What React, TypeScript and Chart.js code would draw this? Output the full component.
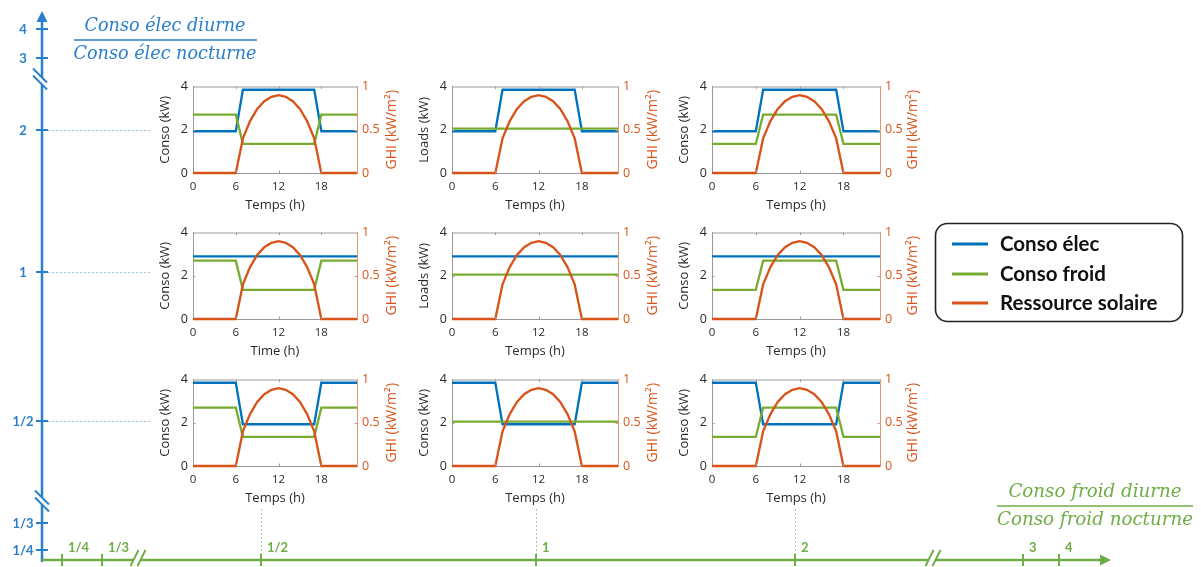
import React, { useEffect, useRef } from 'react';
import { Chart, registerables } from 'chart.js';

Chart.register(...registerables);

// ---------------- data ----------------
const hours = [0, 1, 2, 3, 4, 5, 6, 7, 8, 9, 10, 11, 12, 13, 14, 15, 16, 17, 18, 19, 20, 21, 22, 23];
const ghiProfile = [0, 0, 0, 0, 0, 0, 0, 0.4, 0.6, 0.74, 0.83, 0.88, 0.9, 0.88, 0.83, 0.74, 0.6, 0.4, 0, 0, 0, 0, 0, 0];

const elecDayHigh = [1.93, 1.93, 1.93, 1.93, 1.93, 1.93, 1.93, 3.85, 3.85, 3.85, 3.85, 3.85, 3.85, 3.85, 3.85, 3.85, 3.85, 3.85, 1.93, 1.93, 1.93, 1.93, 1.93, 1.93];
const elecFlat = [2.9, 2.9, 2.9, 2.9, 2.9, 2.9, 2.9, 2.9, 2.9, 2.9, 2.9, 2.9, 2.9, 2.9, 2.9, 2.9, 2.9, 2.9, 2.9, 2.9, 2.9, 2.9, 2.9, 2.9];
const elecDayLow = [3.85, 3.85, 3.85, 3.85, 3.85, 3.85, 3.85, 1.93, 1.93, 1.93, 1.93, 1.93, 1.93, 1.93, 1.93, 1.93, 1.93, 1.93, 3.85, 3.85, 3.85, 3.85, 3.85, 3.85];

const froidDayLow = [2.7, 2.7, 2.7, 2.7, 2.7, 2.7, 2.7, 1.35, 1.35, 1.35, 1.35, 1.35, 1.35, 1.35, 1.35, 1.35, 1.35, 1.35, 2.7, 2.7, 2.7, 2.7, 2.7, 2.7];
const froidFlat = [2.05, 2.05, 2.05, 2.05, 2.05, 2.05, 2.05, 2.05, 2.05, 2.05, 2.05, 2.05, 2.05, 2.05, 2.05, 2.05, 2.05, 2.05, 2.05, 2.05, 2.05, 2.05, 2.05, 2.05];
const froidDayHigh = [1.35, 1.35, 1.35, 1.35, 1.35, 1.35, 1.35, 2.7, 2.7, 2.7, 2.7, 2.7, 2.7, 2.7, 2.7, 2.7, 2.7, 2.7, 1.35, 1.35, 1.35, 1.35, 1.35, 1.35];

const rowElecProfiles = [elecDayHigh, elecFlat, elecDayLow];
const colFroidProfiles = [froidDayLow, froidFlat, froidDayHigh];

const timeTicks = [0, 6, 12, 18];
const loadAxisTitles = [
  ['Conso (kW)', 'Loads (kW)', 'Conso (kW)'],
  ['Conso (kW)', 'Loads (kW)', 'Conso (kW)'],
  ['Conso (kW)', 'Conso (kW)', 'Conso (kW)'],
];
const timeAxisTitles = [
  ['Temps (h)', 'Temps (h)', 'Temps (h)'],
  ['Time (h)', 'Temps (h)', 'Temps (h)'],
  ['Temps (h)', 'Temps (h)', 'Temps (h)'],
];
const ghiAxisTitle = 'GHI (kW/m²)';
const seriesLabels = ['Conso élec', 'Conso froid', 'Ressource solaire'];

const elecRatioLabels = ['4', '3', '2', '1', '1/2', '1/3', '1/4'];
const froidRatioLabels = ['1/4', '1/3', '1/2', '1', '2', '3', '4'];
const elecFractionText = ['Conso élec diurne', 'Conso élec nocturne'];
const froidFractionText = ['Conso froid diurne', 'Conso froid nocturne'];

// ---------------- layout / style ----------------
const W = 1201;
const H = 567;
const COL_LEFT = [193, 452, 712];
const COL_WIDTH = [164, 166, 168];
const ROW_TOP = [84, 230, 377];
const PLOT_H = 89;
const PAD_L = 45;
const PAD_R = 48;
const PAD_T = 10;
const PAD_B = 44;
const RIGHT_TITLE_OFFSET = [35, 35, 33];

const ELEC_TICK_Y = [29, 58, 130, 272, 421, 523, 550];
const FROID_TICK_X = [62, 102, 261, 536, 795, 1023, 1059];
const GUIDED = [2, 3, 4];

const C_BLUE = '#0072BD';
const C_GREEN = '#77AC30';
const C_ORANGE = '#D95319';
const AX_BLUE = '#2A7FCC';
const AX_GREEN = '#70AD47';
const GUIDE_BLUE = '#9DC3E6';
const GUIDE_GREEN = '#A9D18E';
const TXT = '#2a2a2a';
const BOX_GREY = '#9a9a9a';
const SANS = '"Open Sans", "DejaVu Sans", sans-serif';

function line(ctx: CanvasRenderingContext2D, x1: number, y1: number, x2: number, y2: number) {
  ctx.beginPath();
  ctx.moveTo(x1, y1);
  ctx.lineTo(x2, y2);
  ctx.stroke();
}

function drawBreak(ctx: CanvasRenderingContext2D, cx: number, cy: number, hx: number, hy: number, ox: number, oy: number, color: string) {
  ctx.save();
  ctx.fillStyle = '#ffffff';
  ctx.beginPath();
  ctx.moveTo(cx - ox - hx, cy - oy - hy);
  ctx.lineTo(cx - ox + hx, cy - oy + hy);
  ctx.lineTo(cx + ox + hx, cy + oy + hy);
  ctx.lineTo(cx + ox - hx, cy + oy - hy);
  ctx.closePath();
  ctx.fill();
  ctx.strokeStyle = color;
  ctx.lineWidth = 2;
  line(ctx, cx - ox - hx, cy - oy - hy, cx - ox + hx, cy - oy + hy);
  line(ctx, cx + ox - hx, cy + oy - hy, cx + ox + hx, cy + oy + hy);
  ctx.restore();
}

function drawFraction(ctx: CanvasRenderingContext2D, texts: string[], cx: number, lineY: number, x1: number, x2: number, targetW: number, color: string) {
  const family = '"DejaVu Serif", serif';
  ctx.font = `italic 20px ${family}`;
  const w = ctx.measureText(texts[1]).width;
  const size = (20 * targetW) / w;
  ctx.font = `italic ${size.toFixed(2)}px ${family}`;
  ctx.fillStyle = color;
  ctx.textAlign = 'center';
  ctx.textBaseline = 'alphabetic';
  ctx.fillText(texts[0], cx, lineY - 9);
  ctx.fillText(texts[1], cx, lineY + 19);
  ctx.strokeStyle = color;
  ctx.lineWidth = 1.5;
  line(ctx, x1, lineY, x2, lineY);
}

const framePlugin = {
  id: 'outerFrame',
  afterDraw(chart: any) {
    const ctx: CanvasRenderingContext2D = chart.ctx;
    ctx.save();

    // dotted guides
    ctx.setLineDash([2, 2]);
    ctx.lineWidth = 1;
    ctx.strokeStyle = GUIDE_BLUE;
    GUIDED.forEach((i) => line(ctx, 48, ELEC_TICK_Y[i] + 0.5, 152, ELEC_TICK_Y[i] + 0.5));
    ctx.strokeStyle = GUIDE_GREEN;
    GUIDED.forEach((i) => line(ctx, FROID_TICK_X[i] + 0.5, 509, FROID_TICK_X[i] + 0.5, 556));
    ctx.setLineDash([]);

    // vertical (elec) axis
    ctx.strokeStyle = AX_BLUE;
    ctx.fillStyle = AX_BLUE;
    ctx.lineWidth = 2.5;
    line(ctx, 42, 562, 42, 20);
    ctx.beginPath();
    ctx.moveTo(42, 11);
    ctx.lineTo(36.5, 22);
    ctx.lineTo(47.5, 22);
    ctx.closePath();
    ctx.fill();
    ctx.lineWidth = 2;
    ELEC_TICK_Y.forEach((y) => line(ctx, 36, y, 48, y));
    ctx.font = `bold 13px Lato, ${SANS}`;
    ctx.textAlign = 'center';
    ctx.textBaseline = 'middle';
    elecRatioLabels.forEach((lab, i) => ctx.fillText(lab, 23, ELEC_TICK_Y[i] + 1));
    drawBreak(ctx, 40, 79, 7, 7, 0, 3.5, AX_BLUE);
    drawBreak(ctx, 42, 501, 7, 7, 0, 3.5, AX_BLUE);

    // horizontal (froid) axis
    ctx.strokeStyle = AX_GREEN;
    ctx.fillStyle = AX_GREEN;
    ctx.lineWidth = 2.5;
    line(ctx, 42, 560, 1102, 560);
    ctx.beginPath();
    ctx.moveTo(1111, 560);
    ctx.lineTo(1100, 554.5);
    ctx.lineTo(1100, 565.5);
    ctx.closePath();
    ctx.fill();
    ctx.lineWidth = 2;
    FROID_TICK_X.forEach((x) => line(ctx, x, 554, x, 566));
    ctx.font = `bold 13px Lato, ${SANS}`;
    ctx.textAlign = 'left';
    ctx.textBaseline = 'middle';
    froidRatioLabels.forEach((lab, i) => ctx.fillText(lab, FROID_TICK_X[i] + 6, 548));
    drawBreak(ctx, 138, 558, 4, -8, 3.5, 0, AX_GREEN);
    drawBreak(ctx, 933, 558, 4, -8, 3.5, 0, AX_GREEN);

    // fractions
    drawFraction(ctx, elecFractionText, 165, 40, 74, 257, 183, AX_BLUE);
    drawFraction(ctx, froidFractionText, 1095, 506, 997, 1193, 196, AX_GREEN);

    // legend
    ctx.strokeStyle = '#222222';
    ctx.lineWidth = 1.6;
    ctx.beginPath();
    (ctx as any).roundRect(935.5, 223.5, 247, 98, 12);
    ctx.stroke();
    const legColors = [C_BLUE, C_GREEN, C_ORANGE];
    const legY = [244, 274, 303];
    ctx.font = `bold 20.5px Lato, ${SANS}`;
    ctx.textAlign = 'left';
    ctx.textBaseline = 'middle';
    seriesLabels.forEach((lab, i) => {
      ctx.strokeStyle = legColors[i];
      ctx.lineWidth = 3;
      line(ctx, 952, legY[i], 988, legY[i]);
      ctx.fillStyle = '#111111';
      ctx.fillText(lab, 1000, legY[i]);
    });

    ctx.restore();
  },
};

function OuterFrame() {
  const ref = useRef<HTMLCanvasElement>(null);
  useEffect(() => {
    const chart = new Chart(ref.current as HTMLCanvasElement, {
      type: 'scatter',
      data: { datasets: [] },
      options: {
        responsive: false,
        animation: false,
        events: [],
        layout: { padding: 0 },
        plugins: { legend: { display: false }, tooltip: { enabled: false } },
        scales: { x: { display: false }, y: { display: false } },
      },
      plugins: [framePlugin],
    } as any);
    return () => chart.destroy();
  }, []);
  return <canvas ref={ref} width={W} height={H} style={{ position: 'absolute', left: 0, top: 0 }} />;
}

function Panel({ row, col }: { row: number; col: number }) {
  const ref = useRef<HTMLCanvasElement>(null);
  const plotW = COL_WIDTH[col];
  const cw = plotW + PAD_L + PAD_R;
  const chh = PLOT_H + PAD_T + PAD_B;
  useEffect(() => {
    const elec = rowElecProfiles[row];
    const froid = colFroidProfiles[col];
    const decor = {
      id: 'panelDecor',
      afterDraw(chart: any) {
        const ctx: CanvasRenderingContext2D = chart.ctx;
        const a = chart.chartArea;
        const sx = chart.scales.x;
        const sy = chart.scales.y;
        const sy2 = chart.scales.y2;
        ctx.save();
        ctx.strokeStyle = BOX_GREY;
        ctx.lineWidth = 1;
        line(ctx, a.left, a.top + 0.5, a.right, a.top + 0.5);
        timeTicks.slice(1).forEach((t) => {
          const px = Math.round(sx.getPixelForValue(t)) + 0.5;
          line(ctx, px, a.top, px, a.top + 2.5);
          line(ctx, px, a.bottom, px, a.bottom - 2.5);
        });
        const py = Math.round(sy.getPixelForValue(2)) + 0.5;
        line(ctx, a.left, py, a.left + 2.5, py);
        ctx.strokeStyle = '#E59870';
        const py2 = Math.round(sy2.getPixelForValue(0.5)) + 0.5;
        line(ctx, a.right, py2, a.right - 2.5, py2);
        ctx.translate(a.right + RIGHT_TITLE_OFFSET[col], (a.top + a.bottom) / 2);
        ctx.rotate(-Math.PI / 2);
        ctx.fillStyle = C_ORANGE;
        ctx.font = `14px ${SANS}`;
        ctx.textAlign = 'center';
        ctx.textBaseline = 'middle';
        ctx.fillText(ghiAxisTitle, 0, 0);
        ctx.restore();
      },
    };
    const pts = (vals: number[]) => hours.map((h, i) => ({ x: h, y: vals[i] }));
    const chart = new Chart(ref.current as HTMLCanvasElement, {
      type: 'line',
      data: {
        datasets: [
          { label: seriesLabels[2], data: pts(ghiProfile), borderColor: C_ORANGE, borderWidth: 2.3, pointRadius: 0, yAxisID: 'y2', clip: 5, order: 0 },
          { label: seriesLabels[1], data: pts(froid), borderColor: C_GREEN, borderWidth: 2.3, pointRadius: 0, yAxisID: 'y', clip: 5, order: 1 },
          { label: seriesLabels[0], data: pts(elec), borderColor: C_BLUE, borderWidth: 2.3, pointRadius: 0, yAxisID: 'y', clip: 5, order: 2 },
        ],
      },
      options: {
        responsive: false,
        animation: false,
        events: [],
        layout: { padding: { top: PAD_T, left: 0, right: 0, bottom: 0 } },
        plugins: { legend: { display: false }, tooltip: { enabled: false } },
        scales: {
          x: {
            type: 'linear',
            position: 'bottom',
            min: 0,
            max: 23,
            ticks: { stepSize: 6, includeBounds: false, color: TXT, font: { family: SANS, size: 11.5 }, padding: 7, maxRotation: 0 },
            grid: { display: false, drawTicks: false },
            border: { color: BOX_GREY, width: 1 },
            title: { display: true, text: timeAxisTitles[row][col], color: TXT, font: { family: SANS, size: 13 }, padding: { top: 0, bottom: 4 } },
            afterFit: (s: any) => { s.height = PAD_B; },
          },
          y: {
            type: 'linear',
            position: 'left',
            min: 0,
            max: 4,
            ticks: { stepSize: 2, color: TXT, font: { family: SANS, size: 12.5 }, padding: 5 },
            grid: { display: false, drawTicks: false },
            border: { color: BOX_GREY, width: 1 },
            title: { display: true, text: loadAxisTitles[row][col], color: TXT, font: { family: SANS, size: 13 }, padding: { top: 9, bottom: 0 } },
            afterFit: (s: any) => { s.width = PAD_L; },
          },
          y2: {
            type: 'linear',
            position: 'right',
            min: 0,
            max: 1,
            ticks: {
              stepSize: 0.5,
              color: C_ORANGE,
              font: { family: SANS, size: 12.5 },
              padding: 5,
              callback: (v: number) => String(v),
            },
            grid: { display: false, drawTicks: false },
            border: { color: '#E59870', width: 1 },
            afterFit: (s: any) => { s.width = PAD_R; },
          },
        },
      },
      plugins: [decor],
    } as any);
    return () => chart.destroy();
  }, [row, col]);
  return (
    <canvas
      ref={ref}
      width={cw}
      height={chh}
      style={{ position: 'absolute', left: COL_LEFT[col] - PAD_L, top: ROW_TOP[row] - PAD_T }}
    />
  );
}

export default function App() {
  const cells: { row: number; col: number }[] = [];
  for (let r = 0; r < 3; r++) for (let c = 0; c < 3; c++) cells.push({ row: r, col: c });
  return (
    <div style={{ position: 'absolute', left: 0, top: 0, width: W, height: H, background: '#ffffff', overflow: 'hidden' }}>
      <OuterFrame />
      {cells.map((p) => (
        <Panel key={`${p.row}-${p.col}`} row={p.row} col={p.col} />
      ))}
    </div>
  );
}
